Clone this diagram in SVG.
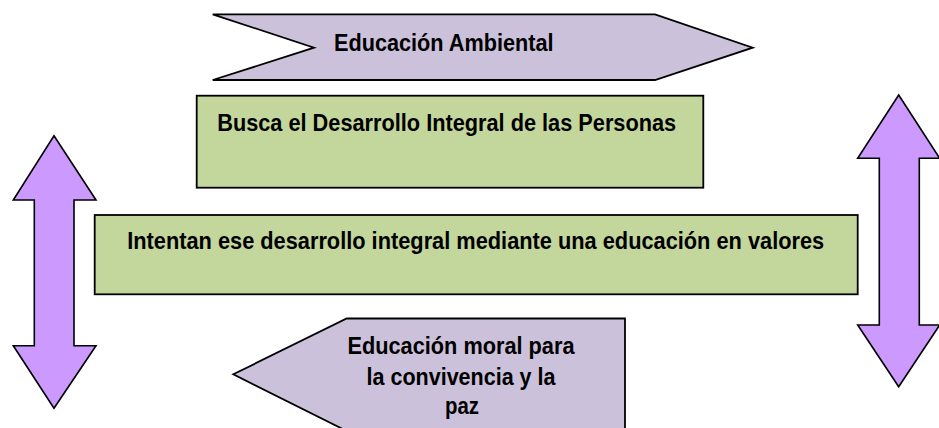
<svg xmlns="http://www.w3.org/2000/svg" width="939" height="428" viewBox="0 0 939 428">
  <style>
    .chev { fill: #CCC1DA; stroke: #000; stroke-width: 1.8; stroke-linejoin: miter; }
    .box { fill: #C3D69B; stroke: #000; stroke-width: 1.8; }
    .arr { fill: #CC99FF; stroke: #000; stroke-width: 1.6; stroke-linejoin: miter; }
    .lbl { font-family: "Liberation Sans", Arial, sans-serif; font-weight: bold; font-size: 24px; fill: #000; text-anchor: middle; }
  </style>
  <rect x="0" y="0" width="939" height="428" fill="#FFFFFF"/>

  <g id="box-busca">
    <rect class="box" x="196.7" y="95.7" width="506.6" height="92"/>
    <text class="lbl" x="446.7" y="130.7" textLength="459" lengthAdjust="spacingAndGlyphs">Busca el Desarrollo Integral de las Personas</text>
  </g>

  <g id="box-intentan">
    <rect class="box" x="94.7" y="215" width="763" height="79.3"/>
    <text class="lbl" x="475.7" y="249" textLength="697" lengthAdjust="spacingAndGlyphs">Intentan ese desarrollo integral mediante una educación en valores</text>
  </g>

  <g id="chevron-ambiental">
    <polygon class="chev" points="212.7,14.3 655,14.3 752.7,47.7 655,80 212.7,80 314,47.7"/>
    <text class="lbl" x="443.8" y="51" textLength="219.6" lengthAdjust="spacingAndGlyphs">Educación Ambiental</text>
  </g>

  <g id="pentagon-moral">
    <polygon class="chev" points="233.3,374.3 346.7,318.5 625,318.5 625,431 346.7,431"/>
    <text class="lbl" x="461" y="354.3" textLength="227" lengthAdjust="spacingAndGlyphs">Educación moral para</text>
    <text class="lbl" x="461" y="384.5" textLength="189" lengthAdjust="spacingAndGlyphs">la convivencia y la</text>
    <text class="lbl" x="462" y="413.5" textLength="34" lengthAdjust="spacingAndGlyphs">paz</text>
  </g>

  <g id="connectors">
    <g id="arrow-left">
      <polygon class="arr" points="54,135.7 96,200 74,200 74,345.7 96,345.7 54,408.3 13.3,345.7 34.3,345.7 34.3,200 13.3,200"/>
    </g>
    <g id="arrow-right">
      <polygon class="arr" points="898.7,95 939.7,158.3 919.3,158.3 919.3,325 939.7,325 898.7,386.7 857.7,325 879.3,325 879.3,158.3 857.7,158.3"/>
    </g>
  </g>
</svg>
